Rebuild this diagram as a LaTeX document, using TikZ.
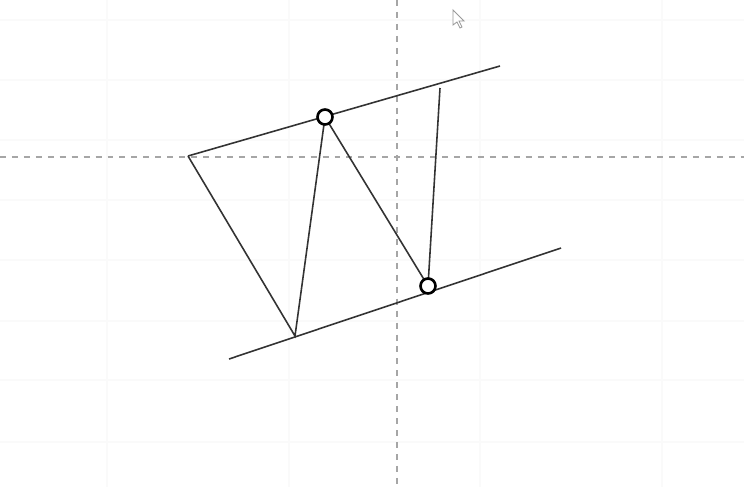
\documentclass[tikz,border=0pt]{standalone}
\usepackage{tikz}

\tikzset{
  hinge/.style={draw,circle,line width=1.5pt,fill=white,inner sep=0pt,minimum size=0.3cm},
  axisline/.style={gray!70,line width=0.8pt,dash pattern=on 3.4pt off 3.4pt},
  gridline/.style={gray!4,line width=0.8pt},
  rod/.style={line width=0.9pt,black!80}
}

\begin{document}
\begin{tikzpicture}[x=0.02cm,y=-0.02cm]
\useasboundingbox[fill=white] (0,0) rectangle (744,487);
% faint background grid
\foreach \gx in {107,289,480,662} \draw[gridline] (\gx,0) -- (\gx,487);
\foreach \gy in {20,80,140,200,260,321,380,442} \draw[gridline] (0,\gy) -- (744,\gy);
% axes
\draw[axisline] (397,0) -- (397,487);
\draw[axisline] (0,157) -- (744,157);
% corner points
\coordinate (a) at (188,156);
\coordinate (ue) at (500,66);
\coordinate (ls) at (229,359);
\coordinate (le) at (561,248);
\coordinate (b) at (295,336);
\coordinate (t) at (440,88);
\coordinate (pc) at (325,117);
\coordinate (qc) at (428,286);
% guide lines
\draw[rod] (a) -- (ue);
\draw[rod] (ls) -- (le);
% zigzag
\draw[rod] (a) -- (b) -- (pc) -- (qc) -- (t);
\node[hinge] (p) at (pc) {};
\node[hinge] (q) at (qc) {};
% pointer
\draw[gray!80,fill=white,line width=0.5pt] (453,10) -- (453,25) -- (457,22) -- (460,28) -- (462,27) -- (459,21) -- (464,21) -- cycle;
\end{tikzpicture}
\end{document}
